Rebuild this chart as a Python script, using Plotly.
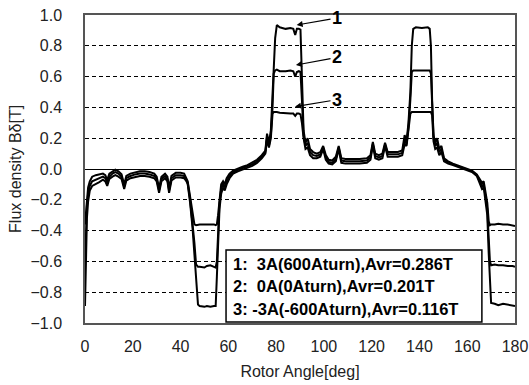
import plotly.graph_objects as go

# Rotor angle (deg) sample points shared by the three curves
angle = [0.0, 0.4, 0.8, 1.3, 2.0, 3.0, 4.5, 6.0, 7.5, 8.5, 9.3, 10.2, 11.5, 12.7, 14.0, 15.3,
         16.4, 17.3, 19.0, 21.0, 23.0, 25.0, 27.0, 29.0, 30.0, 31.0, 32.0, 33.5, 34.5, 35.2,
         36.2, 38.0, 40.0, 41.5, 42.5, 43.0, 44.0, 45.0, 45.8, 46.5, 47.3, 48.0, 50.0, 51.0,
         52.5, 54.0, 54.7, 55.2, 55.7, 56.3, 57.0, 57.8, 58.5, 59.3, 60.5, 62.0, 64.0, 66.0,
         68.0, 70.0, 72.0, 74.0, 75.5, 76.2, 77.0, 77.8, 78.5, 79.0, 79.6, 80.3, 81.5, 84.0,
         86.0, 87.2, 88.0, 88.7, 89.5, 90.2, 90.8, 91.5, 92.3, 93.2, 94.2, 95.5, 97.0, 98.5,
         99.7, 100.8, 102.0, 103.5, 105.0, 106.2, 107.3, 109.0, 112.0, 115.0, 118.0, 119.5,
         120.5, 121.5, 123.0, 124.5, 125.6, 126.7, 128.5, 131.0, 132.8, 133.8, 134.6, 135.4,
         136.2, 136.8, 137.4, 138.5, 141.0, 143.5, 144.3, 144.8, 145.3, 145.9, 146.6, 147.4,
         148.3, 149.2, 150.3, 152.0, 154.0, 157.0, 160.0, 162.0, 164.0, 165.3, 166.2, 166.9,
         167.7, 168.4, 169.0, 169.5, 170.0, 171.5, 173.0, 175.0, 177.0, 179.0, 180.0]

# 1: 3A (600 Aturn)
b_3a = [-0.36, -0.28, -0.18, -0.12, -0.08, -0.05, -0.04, -0.035, -0.03, -0.04, -0.07, -0.03,
        -0.015, -0.005, -0.015, -0.035, -0.10, -0.045, -0.03, -0.02, -0.015, -0.015, -0.02,
        -0.03, -0.05, -0.125, -0.05, -0.03, -0.05, -0.125, -0.045, -0.025, -0.025, -0.03,
        -0.06, -0.08, -0.18, -0.30, -0.36, -0.365, -0.36, -0.36, -0.36, -0.36, -0.36, -0.36,
        -0.365, -0.36, -0.30, -0.18, -0.10, -0.08, -0.10, -0.06, -0.03, -0.01, 0.005, 0.015,
        0.025, 0.04, 0.06, 0.09, 0.12, 0.23, 0.17, 0.25, 0.45, 0.65, 0.85, 0.935, 0.92, 0.91,
        0.915, 0.91, 0.87, 0.91, 0.91, 0.905, 0.60, 0.25, 0.17, 0.20, 0.13, 0.11, 0.10, 0.11,
        0.15, 0.09, 0.06, 0.055, 0.08, 0.15, 0.07, 0.065, 0.065, 0.065, 0.07, 0.09,
        0.175, 0.10, 0.09, 0.10, 0.17, 0.11, 0.11, 0.11, 0.12, 0.22, 0.18, 0.30,
        0.50, 0.80, 0.91, 0.92, 0.915, 0.92, 0.91, 0.80, 0.45, 0.22, 0.17, 0.20,
        0.13, 0.15, 0.07, 0.05, 0.035, 0.02, 0.005, -0.01, -0.035, -0.07, -0.09, -0.08,
        -0.16, -0.22, -0.34, -0.365, -0.36, -0.36, -0.355, -0.36, -0.36, -0.365, -0.37]

# 2: 0A (0 Aturn)
b_0a = [-0.63, -0.42, -0.24, -0.16, -0.11, -0.08, -0.07, -0.06, -0.05, -0.06, -0.09, -0.05,
        -0.03, -0.02, -0.03, -0.05, -0.115, -0.06, -0.045, -0.035, -0.03, -0.03, -0.035,
        -0.045, -0.065, -0.14, -0.065, -0.045, -0.065, -0.14, -0.06, -0.04, -0.04, -0.045,
        -0.07, -0.09, -0.20, -0.34, -0.48, -0.62, -0.635, -0.635, -0.64, -0.63, -0.625, -0.635,
        -0.64, -0.60, -0.40, -0.22, -0.13, -0.10, -0.12, -0.08, -0.045, -0.02, -0.005, 0.005,
        0.015, 0.03, 0.05, 0.08, 0.11, 0.21, 0.15, 0.22, 0.40, 0.62, 0.64, 0.645, 0.635, 0.635,
        0.64, 0.635, 0.60, 0.63, 0.635, 0.63, 0.45, 0.22, 0.15, 0.17, 0.11, 0.09, 0.085, 0.095,
        0.14, 0.075, 0.045, 0.04, 0.065, 0.14, 0.055, 0.05, 0.05, 0.05, 0.055, 0.075,
        0.165, 0.085, 0.075, 0.085, 0.16, 0.095, 0.095, 0.095, 0.105, 0.19, 0.16, 0.27,
        0.45, 0.63, 0.64, 0.64, 0.64, 0.64, 0.64, 0.62, 0.40, 0.20, 0.15, 0.17,
        0.11, 0.13, 0.06, 0.04, 0.03, 0.015, 0.0, -0.015, -0.04, -0.08, -0.11, -0.10,
        -0.18, -0.26, -0.45, -0.60, -0.625, -0.62, -0.625, -0.625, -0.63, -0.63, -0.635]

# 3: -3A (-600 Aturn)
b_m3a = [-0.89, -0.60, -0.32, -0.21, -0.14, -0.11, -0.10, -0.085, -0.07, -0.08, -0.11, -0.065,
         -0.05, -0.04, -0.05, -0.065, -0.13, -0.075, -0.06, -0.05, -0.045, -0.045, -0.05,
         -0.06, -0.08, -0.155, -0.08, -0.06, -0.08, -0.155, -0.075, -0.055, -0.055, -0.06,
         -0.08, -0.10, -0.22, -0.38, -0.58, -0.75, -0.88, -0.89, -0.895, -0.89, -0.895, -0.89,
         -0.89, -0.70, -0.45, -0.26, -0.16, -0.12, -0.14, -0.10, -0.06, -0.03, -0.015, -0.005,
         0.005, 0.02, 0.04, 0.07, 0.10, 0.19, 0.14, 0.20, 0.36, 0.37, 0.37, 0.37, 0.365, 0.36,
         0.36, 0.36, 0.345, 0.36, 0.36, 0.355, 0.30, 0.20, 0.13, 0.14, 0.09, 0.07, 0.07, 0.08,
         0.13, 0.06, 0.035, 0.03, 0.05, 0.13, 0.04, 0.035, 0.035, 0.035, 0.04, 0.06,
         0.155, 0.07, 0.06, 0.07, 0.15, 0.08, 0.08, 0.08, 0.09, 0.16, 0.15, 0.25,
         0.36, 0.37, 0.37, 0.37, 0.37, 0.37, 0.37, 0.37, 0.35, 0.18, 0.13, 0.14,
         0.09, 0.11, 0.05, 0.035, 0.025, 0.01, -0.005, -0.02, -0.045, -0.09, -0.13, -0.12,
         -0.20, -0.30, -0.55, -0.78, -0.87, -0.875, -0.885, -0.875, -0.88, -0.885, -0.89]

series = [b_3a, b_0a, b_m3a]
curve_labels = ["1", "2", "3"]
legend_lines = ["1:\u00a0 3A(600Aturn),Avr=0.286T",
                "2:\u00a0 0A(0Aturn),Avr=0.201T",
                "3: -3A(-600Aturn),Avr=0.116T"]
# arrow heads (angle, B) and label positions (angle, B)
arrow_head = [(88.6, 0.935), (88.3, 0.675), (87.9, 0.405)]
label_pos = [(105.5, 0.98), (105.5, 0.725), (105.5, 0.45)]

fig = go.Figure()
for s in series:
    fig.add_trace(go.Scatter(x=angle, y=s, mode="lines",
                             line=dict(color="black", width=2), showlegend=False))

for lab, (hx, hy), (tx, ty) in zip(curve_labels, arrow_head, label_pos):
    fig.add_annotation(x=hx, y=hy, ax=tx, ay=ty, xref="x", yref="y", axref="x", ayref="y",
                       text="<b>%s</b>" % lab, showarrow=True, arrowhead=2, arrowsize=1,
                       arrowwidth=1.2, arrowcolor="black",
                       font=dict(family="Liberation Sans", size=18, color="black"))

# legend box
fig.add_shape(type="rect", xref="paper", yref="paper", x0=0.328, x1=0.923, y0=0.003, y1=0.237,
              line=dict(color="black", width=1.5), fillcolor="white", layer="above")
for i, t in enumerate(legend_lines):
    fig.add_annotation(x=0.339, y=0.193 - i * 0.073, xref="paper", yref="paper",
                       xanchor="left", yanchor="middle", showarrow=False,
                       text="<b>%s</b>" % t,
                       font=dict(family="Liberation Sans", size=16.5, color="black"))

tick_font = dict(family="Liberation Sans Narrow, Liberation Sans", size=16, color="#222")

# y-axis title placed as a rotated annotation
fig.add_annotation(x=-0.163, y=0.5, xref="paper", yref="paper", xanchor="center",
                   yanchor="middle", showarrow=False, textangle=-90,
                   text="Flux density B\u03b4[T]", font=tick_font)

fig.update_layout(
    width=529, height=385,
    margin=dict(l=85, r=14, t=15, b=62),
    paper_bgcolor="white", plot_bgcolor="white",
    xaxis=dict(range=[0, 180], tickmode="linear", tick0=0, dtick=20, showgrid=False,
               showline=True, mirror=True, linecolor="#555", linewidth=1.5, automargin=False,
               zeroline=False, ticks="", tickfont=tick_font, ticklabelstandoff=8,
               title=dict(text="Rotor Angle[deg]", font=tick_font, standoff=12)),
    yaxis=dict(range=[-1.0, 1.0], tickmode="linear", tick0=-1.0, dtick=0.2, tickformat=".1f",
               showgrid=True, gridcolor="black", gridwidth=1, griddash="4px,3px",
               showline=True, mirror=True, linecolor="#555", linewidth=1.5, automargin=False,
               zeroline=True, zerolinecolor="black", zerolinewidth=1.2, ticks="",
               tickfont=tick_font, ticklabelstandoff=18),
)

fig.write_html("out.html")
